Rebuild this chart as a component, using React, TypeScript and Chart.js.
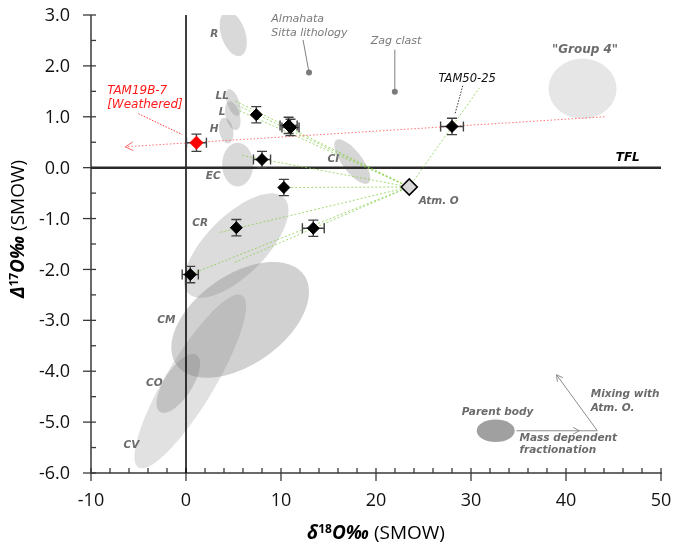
import React, { useEffect, useRef } from "react";
import { Chart, registerables } from "chart.js";
Chart.register(...registerables);

// ---- tick labels ----
const xTicks = [-10, 0, 10, 20, 30, 40, 50];
const yTicks = [-6, -5, -4, -3, -2, -1, 0, 1, 2, 3];

// ---- samples (black diamonds) ----
const sampleX = [7.4, 10.8, 11.0, 8.0, 10.3, 5.3, 13.4, 0.45, 28.0];
const sampleY = [1.04, 0.83, 0.79, 0.16, -0.39, -1.18, -1.19, -2.1, 0.81];
const sampleXErr = [0, 0.9, 0.9, 0.9, 0, 0, 1.15, 0.85, 1.2];
const sampleYErr = [0.16, 0.16, 0.16, 0.16, 0.16, 0.16, 0.16, 0.16, 0.16];

// ---- weathered sample (red) ----
const weatheredX = [1.1];
const weatheredY = [0.49];
const weatheredXErr = [1.05];
const weatheredYErr = [0.17];

// ---- atmospheric oxygen ----
const atmX = [23.5];
const atmY = [-0.38];

// ---- mixing lines (from Atm. O to these ends) ----
const mixEndX = [5.2, 5.5, 5.6, 5.9, 10.3, 3.4, 5.0, 0.45, 30.9];
const mixEndY = [1.31, 1.22, 1.12, 0.24, -0.39, -1.28, -1.87, -2.1, 1.57];

// ---- weathering trend line ----
const weatherLineX = [44.05, -6.4];
const weatherLineY = [1.0, 0.41];

// ---- reference lines ----
const tflX = [-10, 50.2];
const tflY = [0, 0];
const zeroX = [0, 0];
const zeroY = [-6, 3];

// ---- meteorite group fields (ellipses: centre, conjugate semi-axes in data units) ----
const fieldNames = ["CV", "CR", "CM", "CO", "R", "LL", "L", "H", "EC", "CI", "Group 4"];
const fieldCX = [0.45, 5.28, 5.7, -0.81, 4.97, 4.97, 4.92, 4.23, 5.44, 17.5, 41.74];
const fieldCY = [-4.2, -1.53, -2.99, -4.24, 2.63, 1.28, 1.02, 0.73, 0.06, 0.12, 1.55];
const fieldAX = [5.46, 5.04, 6.72, 1.93, -0.79, -0.5, -0.41, -0.24, 0, 1.7, 3.57];
const fieldAY = [1.69, 0.94, 0.88, 0.56, 0.43, 0.26, 0.28, 0.25, 0.43, -0.42, 0];
const fieldBX = [2.17, 2.21, 2.71, 1.24, 1.19, 0.59, 0.71, 0.72, 1.63, -0.84, 0];
const fieldBY = [-0.25, -0.41, -0.72, -0.15, 0.08, 0.04, 0.04, 0.02, 0, -0.12, 0.59];
const fieldAlpha = [0.24, 0.28, 0.36, 0.32, 0.3, 0.3, 0.3, 0.3, 0.3, 0.32, 0.2];

// ---- group labels ----
const groupLabels = ["R", "LL", "L", "H", "EC", "CI", "CR", "CM", "CO", "CV"];
const groupLabelX = [2.99, 3.81, 3.81, 2.97, 2.87, 15.5, 1.5, -2.07, -3.33, -5.75];
const groupLabelY = [2.63, 1.41, 1.08, 0.75, -0.16, 0.16, -1.1, -2.99, -4.24, -5.46];

// ---- other annotations ----
const notes = [
  { text: "Almahata", x: 8.98, y: 2.91, style: "grey", align: "left" },
  { text: "Sitta lithology", x: 8.98, y: 2.65, style: "grey", align: "left" },
  { text: "Zag clast", x: 22.1, y: 2.48, style: "grey", align: "center" },
  { text: '"Group 4"', x: 42.0, y: 2.32, style: "boldLarge", align: "center" },
  { text: "TAM50-25", x: 29.6, y: 1.75, style: "black", align: "center" },
  { text: "TAM19B-7", x: -8.3, y: 1.51, style: "red", align: "left" },
  { text: "[Weathered]", x: -8.3, y: 1.24, style: "red", align: "left" },
  { text: "TFL", x: 46.5, y: 0.2, style: "tfl", align: "center" },
  { text: "Atm. O", x: 26.6, y: -0.67, style: "bold", align: "center" },
  { text: "Parent body", x: 32.8, y: -4.81, style: "bold", align: "center" },
  { text: "Mass dependent", x: 35.1, y: -5.32, style: "bold", align: "left" },
  { text: "fractionation", x: 35.1, y: -5.56, style: "bold", align: "left" },
  { text: "Mixing with", x: 42.6, y: -4.46, style: "bold", align: "left" },
  { text: "Atm. O.", x: 42.6, y: -4.72, style: "bold", align: "left" },
];

const dotX = [12.95, 21.98];
const dotY = [1.87, 1.49];

const leaders = [
  { x1: 12.32, y1: 2.51, x2: 12.95, y2: 1.87, color: "#808080", dash: [] as number[] },
  { x1: 21.98, y1: 2.32, x2: 21.98, y2: 1.49, color: "#808080", dash: [] as number[] },
  { x1: 29.13, y1: 1.61, x2: 28.29, y2: 1.04, color: "#333333", dash: [1.5, 1.5] },
  { x1: -5.01, y1: 1.06, x2: -0.39, y2: 0.65, color: "#ff3b3b", dash: [1.5, 1.5] },
];

// legend diagram
const legendBody = { cx: 32.6, cy: -5.17, ax: 2.0, by: 0.22 };
const legendArrowX = [34.8, 43.3, 39.0];
const legendArrowY = [-5.17, -5.17, -4.07];
const legendArrowMid = 41.4;

const styles: Record<string, { font: string; color: string }> = {
  grey: { font: 'italic 11px "DejaVu Sans"', color: "#7a7a7a" },
  bold: { font: 'italic bold 10.5px "DejaVu Sans"', color: "#6b6b6b" },
  boldLarge: { font: 'italic bold 12px "DejaVu Sans"', color: "#6b6b6b" },
  black: { font: 'italic 11.5px "DejaVu Sans"', color: "#111111" },
  red: { font: 'italic 12px "DejaVu Sans"', color: "#ff1a1a" },
  tfl: { font: 'italic bold 12px "DejaVu Sans"', color: "#000000" },
};

function chevron(ctx: CanvasRenderingContext2D, tx: number, ty: number, fx: number, fy: number, size: number) {
  const ang = Math.atan2(ty - fy, tx - fx);
  ctx.beginPath();
  ctx.moveTo(tx - size * Math.cos(ang - 0.5), ty - size * Math.sin(ang - 0.5));
  ctx.lineTo(tx, ty);
  ctx.lineTo(tx - size * Math.cos(ang + 0.5), ty - size * Math.sin(ang + 0.5));
  ctx.stroke();
}

function drawRich(ctx: CanvasRenderingContext2D, segs: { t: string; f: string; dy?: number }[], cx: number, cy: number, angle: number) {
  ctx.save();
  ctx.translate(cx, cy);
  ctx.rotate(angle);
  let total = 0;
  for (const s of segs) {
    ctx.font = s.f;
    total += ctx.measureText(s.t).width;
  }
  let xx = -total / 2;
  ctx.textAlign = "left";
  ctx.textBaseline = "alphabetic";
  ctx.fillStyle = "#000";
  for (const s of segs) {
    ctx.font = s.f;
    ctx.fillText(s.t, xx, 7 + (s.dy || 0));
    xx += ctx.measureText(s.t).width;
  }
  ctx.restore();
}

const errorBarSets: Record<number, { x: number[]; y: number[]; xe: number[]; ye: number[] }> = {
  0: { x: sampleX, y: sampleY, xe: sampleXErr, ye: sampleYErr },
  1: { x: weatheredX, y: weatheredY, xe: weatheredXErr, ye: weatheredYErr },
};

const overlay = {
  id: "overlay",
  beforeDatasetsDraw(chart: any) {
    const { ctx, chartArea: ca, scales } = chart;
    const sx = scales.x, sy = scales.y;
    ctx.save();
    ctx.beginPath();
    ctx.rect(ca.left, ca.top, ca.right - ca.left, ca.bottom - ca.top);
    ctx.clip();
    for (let i = 0; i < fieldNames.length; i++) {
      const cx = sx.getPixelForValue(fieldCX[i]);
      const cy = sy.getPixelForValue(fieldCY[i]);
      const ax = sx.getPixelForValue(fieldCX[i] + fieldAX[i]) - cx;
      const ay = sy.getPixelForValue(fieldCY[i] + fieldAY[i]) - cy;
      const bx = sx.getPixelForValue(fieldCX[i] + fieldBX[i]) - cx;
      const by = sy.getPixelForValue(fieldCY[i] + fieldBY[i]) - cy;
      ctx.beginPath();
      for (let k = 0; k <= 96; k++) {
        const t = (k / 96) * Math.PI * 2;
        const px = cx + ax * Math.cos(t) + bx * Math.sin(t);
        const py = cy + ay * Math.cos(t) + by * Math.sin(t);
        if (k === 0) ctx.moveTo(px, py);
        else ctx.lineTo(px, py);
      }
      ctx.closePath();
      ctx.fillStyle = `rgba(128,128,128,${fieldAlpha[i]})`;
      ctx.fill();
    }
    ctx.restore();

    // axes
    ctx.save();
    ctx.strokeStyle = "#3a3a3a";
    ctx.lineWidth = 1.5;
    ctx.beginPath();
    ctx.moveTo(ca.left, ca.top);
    ctx.lineTo(ca.left, ca.bottom);
    ctx.lineTo(ca.right + 1, ca.bottom);
    ctx.stroke();
    ctx.lineWidth = 1.3;
    for (const v of yTicks) {
      const py = sy.getPixelForValue(v);
      ctx.beginPath();
      ctx.moveTo(ca.left - 8, py);
      ctx.lineTo(ca.left + 5, py);
      ctx.stroke();
      if (v < 3) {
        const pm = sy.getPixelForValue(v + 0.5);
        ctx.beginPath();
        ctx.moveTo(ca.left, pm);
        ctx.lineTo(ca.left + 5, pm);
        ctx.stroke();
      }
    }
    for (const v of xTicks) {
      const px = sx.getPixelForValue(v);
      ctx.beginPath();
      ctx.moveTo(px, ca.bottom - 5);
      ctx.lineTo(px, ca.bottom + 8);
      ctx.stroke();
      if (v < 50) {
        for (let m = 2; m < 10; m += 2) {
          const pm = sx.getPixelForValue(v + m);
          ctx.beginPath();
          ctx.moveTo(pm, ca.bottom - 5);
          ctx.lineTo(pm, ca.bottom);
          ctx.stroke();
        }
      }
    }
    // tick labels
    ctx.fillStyle = "#111";
    ctx.font = '18px "Open Sans"';
    ctx.textBaseline = "middle";
    ctx.textAlign = "right";
    for (const v of yTicks) {
      ctx.fillText(v.toFixed(1), ca.left - 21, sy.getPixelForValue(v) + 1);
    }
    ctx.textAlign = "center";
    for (const v of xTicks) {
      ctx.fillText(String(v), sx.getPixelForValue(v), ca.bottom + 28);
    }
    ctx.restore();
  },
  beforeDatasetDraw(chart: any, args: any) {
    const set = errorBarSets[args.index];
    if (!set) return;
    const { ctx, scales } = chart;
    const sx = scales.x, sy = scales.y;
    ctx.save();
    ctx.strokeStyle = "#404040";
    ctx.lineWidth = 1.4;
    for (let i = 0; i < set.x.length; i++) {
      const px = sx.getPixelForValue(set.x[i]);
      const py = sy.getPixelForValue(set.y[i]);
      if (set.xe[i] > 0) {
        const l = sx.getPixelForValue(set.x[i] - set.xe[i]);
        const r = sx.getPixelForValue(set.x[i] + set.xe[i]);
        ctx.beginPath();
        ctx.moveTo(l, py); ctx.lineTo(r, py);
        ctx.moveTo(l, py - 5); ctx.lineTo(l, py + 5);
        ctx.moveTo(r, py - 5); ctx.lineTo(r, py + 5);
        ctx.stroke();
      }
      if (set.ye[i] > 0) {
        const t = sy.getPixelForValue(set.y[i] + set.ye[i]);
        const b = sy.getPixelForValue(set.y[i] - set.ye[i]);
        ctx.beginPath();
        ctx.moveTo(px, t); ctx.lineTo(px, b);
        ctx.moveTo(px - 5, t); ctx.lineTo(px + 5, t);
        ctx.moveTo(px - 5, b); ctx.lineTo(px + 5, b);
        ctx.stroke();
      }
    }
    ctx.restore();
  },
  afterDatasetsDraw(chart: any) {
    const { ctx, chartArea: ca, scales } = chart;
    const sx = scales.x, sy = scales.y;
    ctx.save();
    // arrowhead of the weathering line
    ctx.strokeStyle = "rgba(255,90,90,0.9)";
    ctx.lineWidth = 1;
    chevron(ctx, sx.getPixelForValue(weatherLineX[1]), sy.getPixelForValue(weatherLineY[1]),
      sx.getPixelForValue(weatherLineX[0]), sy.getPixelForValue(weatherLineY[0]), 9);

    // leaders
    for (const l of leaders) {
      ctx.strokeStyle = l.color;
      ctx.lineWidth = 1;
      ctx.setLineDash(l.dash);
      ctx.beginPath();
      ctx.moveTo(sx.getPixelForValue(l.x1), sy.getPixelForValue(l.y1));
      ctx.lineTo(sx.getPixelForValue(l.x2), sy.getPixelForValue(l.y2));
      ctx.stroke();
    }
    ctx.setLineDash([]);
    // dots
    ctx.fillStyle = "#7a7a7a";
    for (let i = 0; i < dotX.length; i++) {
      ctx.beginPath();
      ctx.arc(sx.getPixelForValue(dotX[i]), sy.getPixelForValue(dotY[i]), 3, 0, Math.PI * 2);
      ctx.fill();
    }
    // legend ellipse + arrows
    {
      const cx = sx.getPixelForValue(legendBody.cx);
      const cy = sy.getPixelForValue(legendBody.cy);
      const rx = sx.getPixelForValue(legendBody.cx + legendBody.ax) - cx;
      const ry = cy - sy.getPixelForValue(legendBody.cy + legendBody.by);
      ctx.fillStyle = "#a0a0a0";
      ctx.beginPath();
      ctx.ellipse(cx, cy, rx, ry, 0, 0, Math.PI * 2);
      ctx.fill();
      ctx.strokeStyle = "#8c8c8c";
      ctx.lineWidth = 1;
      const p = legendArrowX.map((v, i) => [sx.getPixelForValue(v), sy.getPixelForValue(legendArrowY[i])]);
      ctx.beginPath();
      ctx.moveTo(p[0][0], p[0][1]);
      ctx.lineTo(p[1][0], p[1][1]);
      ctx.lineTo(p[2][0], p[2][1]);
      ctx.stroke();
      chevron(ctx, sx.getPixelForValue(legendArrowMid), p[0][1], p[0][0], p[0][1], 7);
      chevron(ctx, p[2][0], p[2][1], p[1][0], p[1][1], 7);
    }
    // group labels
    ctx.textBaseline = "middle";
    ctx.textAlign = "center";
    ctx.font = styles.bold.font;
    ctx.fillStyle = styles.bold.color;
    for (let i = 0; i < groupLabels.length; i++) {
      ctx.fillText(groupLabels[i], sx.getPixelForValue(groupLabelX[i]), sy.getPixelForValue(groupLabelY[i]));
    }
    for (const n of notes) {
      const st = styles[n.style];
      ctx.font = st.font;
      ctx.fillStyle = st.color;
      ctx.textAlign = n.align as CanvasTextAlign;
      ctx.fillText(n.text, sx.getPixelForValue(n.x), sy.getPixelForValue(n.y));
    }
    // axis titles
    const big = '19px "Open Sans"';
    drawRich(ctx, [
      { t: "δ", f: "italic bold " + big },
      { t: "18", f: 'bold 12px "Open Sans"', dy: -6 },
      { t: "O‰", f: "italic bold " + big },
      { t: " (SMOW)", f: big },
    ], (ca.left + ca.right) / 2, ca.bottom + 59, 0);
    drawRich(ctx, [
      { t: "Δ", f: "italic bold " + big },
      { t: "17", f: 'bold 12px "Open Sans"', dy: -6 },
      { t: "O‰", f: "italic bold " + big },
      { t: " (SMOW)", f: big },
    ], ca.left - 74, (ca.top + ca.bottom) / 2 - 15, -Math.PI / 2);
    ctx.restore();
  },
};

const pts = (xs: number[], ys: number[]) => xs.map((x, i) => ({ x, y: ys[i] }));

export default function App() {
  const ref = useRef<HTMLCanvasElement | null>(null);
  useEffect(() => {
    if (!ref.current) return;
    const green = "rgba(130,205,70,0.75)";
    const mixSets = mixEndX.map((ex, i) => ({
      data: [{ x: atmX[0], y: atmY[0] }, { x: ex, y: mixEndY[i] }],
      showLine: true,
      pointRadius: 0,
      borderColor: green,
      borderWidth: 1,
      borderDash: [2, 2],
    }));
    const chart = new Chart(ref.current, {
      type: "scatter",
      data: {
        datasets: [
          {
            data: pts(sampleX, sampleY),
            pointStyle: "rectRot",
            pointRadius: 6,
            backgroundColor: "#000",
            borderColor: "#000",
            borderWidth: 1,
          },
          {
            data: pts(weatheredX, weatheredY),
            pointStyle: "rectRot",
            pointRadius: 6.5,
            backgroundColor: "#ff0000",
            borderColor: "#ff0000",
            borderWidth: 1,
          },
          {
            data: pts(atmX, atmY),
            pointStyle: "rectRot",
            pointRadius: 8,
            backgroundColor: "#d9d9d9",
            borderColor: "#000",
            borderWidth: 1.6,
          },
          ...mixSets,
          {
            data: pts(weatherLineX, weatherLineY),
            showLine: true,
            pointRadius: 0,
            borderColor: "rgba(255,90,90,0.85)",
            borderWidth: 1,
            borderDash: [1.5, 2],
          },
          {
            data: pts(tflX, tflY),
            showLine: true,
            pointRadius: 0,
            borderColor: "#2a2a2a",
            borderWidth: 2.5,
          },
          {
            data: pts(zeroX, zeroY),
            showLine: true,
            pointRadius: 0,
            borderColor: "#000",
            borderWidth: 1.5,
          },
        ] as any,
      },
      options: {
        responsive: false,
        animation: false,
        events: [],
        layout: { padding: { top: 15, right: 14, left: 0, bottom: 0 } },
        plugins: { legend: { display: false }, tooltip: { enabled: false } },
        scales: {
          x: {
            type: "linear",
            min: -10,
            max: 50,
            grid: { display: false, drawTicks: false },
            border: { display: false },
            afterBuildTicks: (s: any) => { s.ticks = xTicks.map((v) => ({ value: v })); },
            afterFit: (s: any) => { s.height = 72; },
            ticks: { display: false },
          },
          y: {
            type: "linear",
            min: -6,
            max: 3,
            grid: { display: false, drawTicks: false },
            border: { display: false },
            afterBuildTicks: (s: any) => { s.ticks = yTicks.map((v) => ({ value: v })); },
            afterFit: (s: any) => { s.width = 91; },
            ticks: { display: false },
          },
        },
      } as any,
      plugins: [overlay],
    });
    return () => chart.destroy();
  }, []);
  return (
    <canvas
      ref={ref}
      width={675}
      height={545}
      style={{ position: "fixed", left: 0, top: 0, display: "block", background: "#fff" }}
    />
  );
}
